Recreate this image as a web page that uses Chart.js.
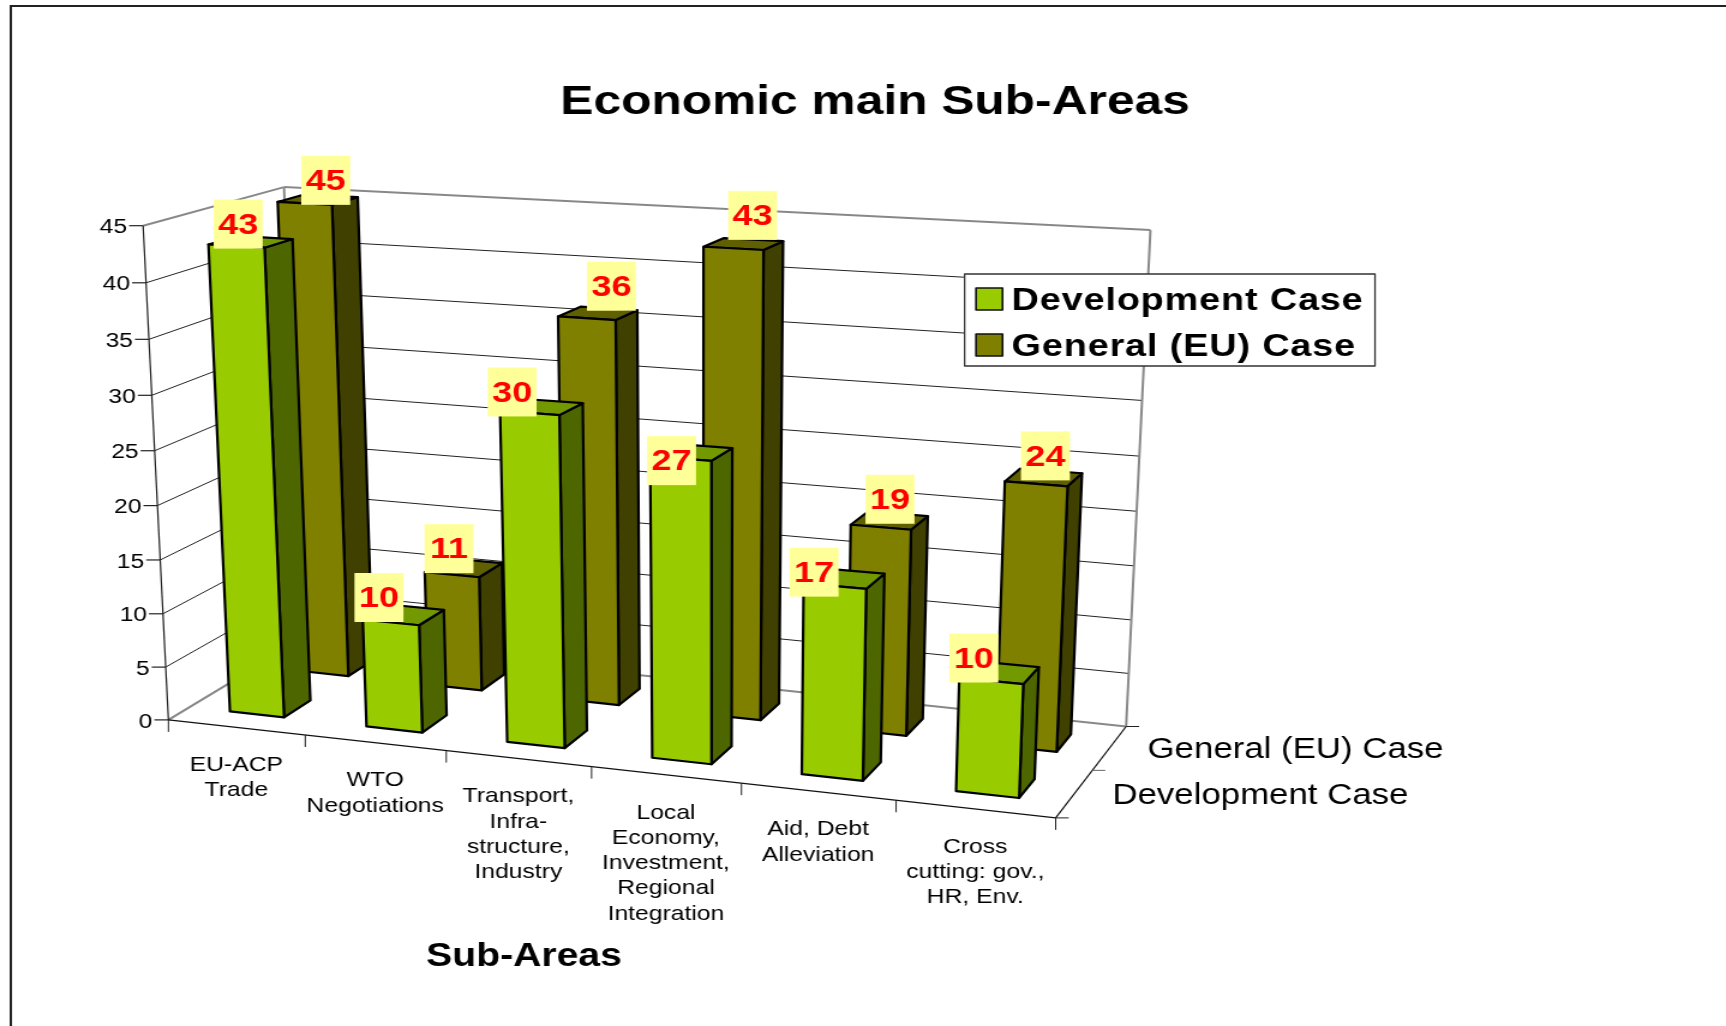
<!DOCTYPE html>
<html><head><meta charset="utf-8">
<style>
html,body{margin:0;padding:0;background:#fff;overflow:hidden}
#c{display:block;width:1726px!important;height:1026px!important}
</style>
<script src="https://cdn.jsdelivr.net/npm/chart.js@4/dist/chart.umd.js"></script>
</head><body><canvas id="c" width="1438" height="1026"></canvas>
<script>
// ---- data ----
const categories = [
  ['EU-ACP','Trade'],
  ['WTO','Negotiations'],
  ['Transport,','Infra-','structure,','Industry'],
  ['Local','Economy,','Investment,','Regional','Integration'],
  ['Aid, Debt','Alleviation'],
  ['Cross','cutting: gov.,','HR, Env.']
];
const developmentCase = [43,10,30,27,17,10];
const generalCase     = [45,11,36,43,19,24];
const seriesNames = ['Development Case','General (EU) Case'];
const chartTitle = 'Economic main Sub-Areas';
const xAxisTitle = 'Sub-Areas';

// ---- look ----
const SX = 1726/1438;           // the picture is horizontally stretched
const FONT = '"Liberation Sans", Arial, sans-serif';
const FACES = [
  {front:'#99CC00', side:'#4D6600', top:'#739900'},
  {front:'#808000', side:'#404000', top:'#606000'}
];
// camera calibration of the 3-D box (page px): floor and ceiling corners
const FLOOR = {fl:[168.4,719.9], fr:[1055.7,817.9], br:[1126.1,726.5], bl:[301.6,639.6]};
const CEIL  = {fl:[143.1,225.7], fr:[1077.7,278.5], br:[1150.4,230.1], bl:[284,187.1]};
const HEIGHT_PERSPECTIVE = 1.045;
const FLOOR_PERSPECTIVE = 1.047;
const CEIL_PERSPECTIVE = 0.98;
// data-label nudges from the front-top-centre of each bar (page px)
const LABEL_NUDGE = [
  [[1.7,-22],[-12,-25],[-17.6,-21],[-9.2,2],[-20.8,-14],[-17.4,-23]],
  [[20.9,-23],[-3,-26],[24.5,-32],[19.1,-33],[9.1,-28],[9.2,-28]]
];

function homography(q){
  const [x0,y0]=q.fl,[x1,y1]=q.fr,[x2,y2]=q.br,[x3,y3]=q.bl;
  const dx1=x1-x2,dx2=x3-x2,sx=x0-x1+x2-x3,dy1=y1-y2,dy2=y3-y2,sy=y0-y1+y2-y3;
  const den=dx1*dy2-dx2*dy1;
  const g=(sx*dy2-dx2*sy)/den,h=(dx1*sy-sx*dy1)/den;
  const a=x1-x0+g*x1,b=x3-x0+h*x3,d=y1-y0+g*y1,e=y3-y0+h*y3;
  return (u,w)=>{const z=g*u+h*w+1;return [(a*u+b*w+x0)/z,(d*u+e*w+y0)/z];};
}
const floorH=homography(FLOOR), ceilH=homography(CEIL);
function P(u,w,t){
  const k=HEIGHT_PERSPECTIVE, tt=t/(t+(1-t)*k);
  const uf=u/(u+(1-u)*FLOOR_PERSPECTIVE), uc=u/(u+(1-u)*CEIL_PERSPECTIVE);
  const a=floorH(uf,w),b=ceilH(uc,w);
  return [(a[0]+(b[0]-a[0])*tt)/SX, a[1]+(b[1]-a[1])*tt];
}
function poly(ctx,pts,fill){
  ctx.beginPath();pts.forEach((p,i)=>i?ctx.lineTo(p[0],p[1]):ctx.moveTo(p[0],p[1]));ctx.closePath();
  if(fill){ctx.fillStyle=fill;ctx.fill();}
  ctx.stroke();
}
function seg(ctx,a,b,color,lw){
  ctx.strokeStyle=color;ctx.lineWidth=lw;ctx.beginPath();ctx.moveTo(a[0],a[1]);ctx.lineTo(b[0],b[1]);ctx.stroke();
}
function text(ctx,s,x,y,font,color,align,spacing){
  ctx.font=font;ctx.fillStyle=color;ctx.textAlign=align||'center';ctx.textBaseline='middle';
  ctx.letterSpacing=spacing||'0px';ctx.fillText(s,x,y+2);ctx.letterSpacing='0px';
}

const box3d={
  id:'box3d',
  beforeDatasetsDraw(chart){
    const ctx=chart.ctx,xs=chart.scales.x,ys=chart.scales.y;
    const U=px=>(px-xs.left)/xs.width, T=px=>(ys.bottom-px)/ys.height;
    const rows=chart.data.datasets.length, n=categories.length;
    ctx.save();
    // outer frame
    seg(ctx,[9,6],[1438,6],'#222',2); seg(ctx,[9,5],[9,1026],'#222',2);

    // walls
    ys.ticks.forEach(tk=>{
      const t=T(ys.getPixelForValue(tk.value));
      const edge=t===0||t===1;
      const col=edge?'#888':'#222', lw=edge?2:1;
      seg(ctx,P(0,1,t),P(1,1,t),col,lw);
      seg(ctx,P(0,0,t),P(0,1,t),col,lw);
      const f=P(0,0,t);
      seg(ctx,f,[f[0]-14/SX,f[1]],'#222',1.2);
      text(ctx,String(tk.value),f[0]-16/SX,f[1],'20.5px '+FONT,'#000','right');
    });
    seg(ctx,P(0,1,0),P(0,1,1),'#888',2);
    seg(ctx,P(1,1,0),P(1,1,1),'#888',2);
    seg(ctx,P(0,0,0),P(0,0,1),'#222',1.2);
    // floor
    seg(ctx,P(0,0,0),P(1,0,0),'#111',1.2);
    seg(ctx,P(1,0,0),P(1,1,0),'#111',1.2);
    // x ticks + labels
    for(let i=0;i<=n;i++){const a=P(i/n,0,0);seg(ctx,a,[a[0],a[1]+12],'#222',1);}
    categories.forEach((lines,i)=>{
      const c=U(xs.getPixelForTick(i)),a=P(c,0,0);
      lines.forEach((l,j)=>text(ctx,l,a[0],a[1]+36+j*25.3,'20.6px '+FONT,'#000'));
    });
    // depth ticks + series labels
    for(let r=0;r<=rows;r++){const a=P(1,r/rows,0);seg(ctx,a,[a[0]+13/SX,a[1]],r===1?'#666':'#222',1);}
    chart.data.datasets.forEach((ds,r)=>{
      const a=P(1,(r+.5)/rows,0);
      text(ctx,ds.label,a[0]+38/SX,a[1],'29px '+FONT,'#000','left');
    });
    // axis title
    text(ctx,xs.options.title.text,524/SX,955,'bold 32.6px '+FONT,'#000');

    // bars: back row first, left to right
    const labels=[];
    ctx.lineJoin='round';
    for(let r=rows-1;r>=0;r--){
      const meta=chart.getDatasetMeta(r),f=FACES[r];
      const w0=(r+.3)/rows,w1=(r+.7)/rows;
      meta.data.forEach((el,i)=>{
        const u0=U(el.x-el.width/2),u1=U(el.x+el.width/2),t=T(el.y);
        ctx.strokeStyle='#000';ctx.lineWidth=2.2;
        poly(ctx,[P(u1,w0,t),P(u1,w1,t),P(u1,w1,0),P(u1,w0,0)],f.side);
        poly(ctx,[P(u0,w0,t),P(u1,w0,t),P(u1,w1,t),P(u0,w1,t)],f.top);
        poly(ctx,[P(u0,w0,t),P(u1,w0,t),P(u1,w0,0),P(u0,w0,0)],f.front);
        const a=P(u0,w0,t),b=P(u1,w0,t),nd=LABEL_NUDGE[r][i];
        labels.push({v:chart.data.datasets[r].data[i],x:(a[0]+b[0])/2+nd[0]/SX,y:(a[1]+b[1])/2+nd[1]});
      });
    }
    // data labels
    labels.forEach(l=>{
      ctx.fillStyle='#FFFF99';ctx.fillRect(l.x-20.4,l.y-24.5,40.8,49);
      text(ctx,String(l.v),l.x,l.y-0.5,'bold 30px '+FONT,'#FF0000');
    });
    // legend
    ctx.fillStyle='#fff';ctx.strokeStyle='#333';ctx.lineWidth=1.3;
    ctx.beginPath();ctx.rect(964.6/SX,274,410.4/SX,92);ctx.fill();ctx.stroke();
    chart.data.datasets.forEach((ds,r)=>{
      const yc=r===0?299:345;
      ctx.fillStyle=ds.backgroundColor;ctx.strokeStyle='#111';ctx.lineWidth=1.6;
      ctx.beginPath();ctx.rect(976/SX,yc-11,26.5/SX,22);ctx.fill();ctx.stroke();
      text(ctx,ds.label,1011.5/SX,yc,'bold 31.5px '+FONT,'#000','left','0.72px');
    });
    ctx.restore();
    return false;
  }
};

new Chart(document.getElementById('c'),{
  type:'bar',
  data:{labels:categories,datasets:[
    {label:seriesNames[0],data:developmentCase,backgroundColor:FACES[0].front,grouped:false,barPercentage:.4,categoryPercentage:1},
    {label:seriesNames[1],data:generalCase,backgroundColor:FACES[1].front,grouped:false,barPercentage:.4,categoryPercentage:1}
  ]},
  options:{
    responsive:false,animation:false,
    layout:{padding:{left:20}},
    plugins:{
      legend:{display:false},tooltip:{enabled:false},
      title:{display:true,text:chartTitle,color:'#000',font:{family:FONT,size:41.4,weight:'bold'},padding:{top:78,bottom:20}}
    },
    scales:{
      x:{display:false,title:{display:false,text:xAxisTitle}},
      y:{display:false,min:0,max:45,ticks:{stepSize:5}}
    }
  },
  plugins:[box3d]
});
</script></body></html>
